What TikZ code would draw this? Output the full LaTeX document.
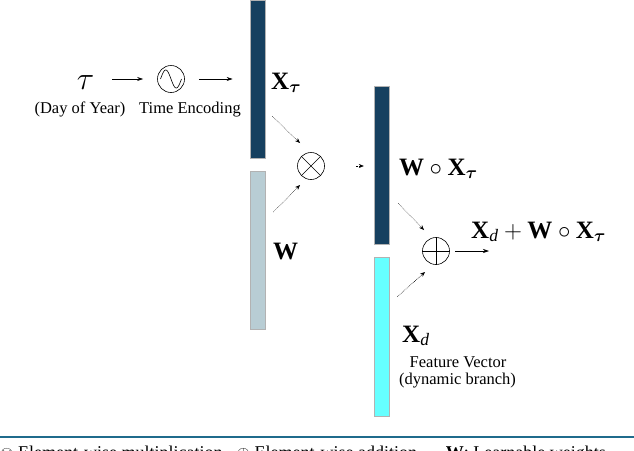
\documentclass[tikz,border=0pt]{standalone}
\usepackage{amsmath}
\usepackage{bm}
\usepackage{fontspec}
\setmainfont{Liberation Serif}
\usetikzlibrary{arrows.meta,calc}
\definecolor{navybar}{RGB}{22,64,95}
\definecolor{lightbar}{RGB}{184,205,212}
\definecolor{cyanbar}{RGB}{102,255,255}
\definecolor{rulecol}{RGB}{31,107,140}
\begin{document}
\begin{tikzpicture}[x=1pt,y=-1pt,
  bar/.style={draw=gray!60, line width=0.8pt, minimum width=15pt, minimum height=158pt, inner sep=0pt},
  lbl/.style={inner sep=0pt, anchor=base west, font=\fontsize{25}{29}\selectfont},
  txt/.style={inner sep=0pt, anchor=base, font=\fontsize{16.5}{19}\selectfont},
  op/.style={circle, draw, line width=0.6pt, minimum size=27pt, inner sep=0pt},
  arr/.style={-{Stealth[length=6pt,width=4pt]}, line width=0.6pt},
  dotarr/.style={densely dotted, -{Stealth[length=5pt,width=4pt]}, line width=0.5pt}]
\useasboundingbox (0,0) rectangle (634,450);
\begin{scope}
\clip (0,0) rectangle (634,450);
% bars
\node[bar, fill=navybar] (bxt) at (257.5,79) {};
\node[bar, fill=lightbar] (bw) at (257.5,250) {};
\node[bar, fill=navybar] (bwx) at (381.5,165) {};
\node[bar, fill=cyanbar, minimum height=159pt] (bxd) at (381.5,336.5) {};
% input
\node[inner sep=0pt, anchor=base, font=\fontsize{25}{30}\selectfont] (tau) at (85.5,89) {\scalebox{1.3}{$\tau$}};
\node[txt] (doy) at (80,113) {(Day of Year)};
\node[op] (enc) at (171,79) {};
\draw[line width=0.6pt, shift={(enc.center)}, domain=-10.5:10.5, samples=50, smooth] plot (\x,{9*sin(17.14*\x)});
\node[txt] (te) at (190,113) {Time Encoding};
% labels
\node[lbl] (lxt) at (271,89) {\textbf{X}$_{\bm{\tau}}$};
\node[lbl] (lw) at (273,259) {\textbf{W}};
\node[lbl] (lwx) at (399,175) {$\textbf{W}\circ\textbf{X}_{\bm{\tau}}$};
\node[lbl] (lsum) at (471,238) {$\textbf{X}_{\textit{d}}+\textbf{W}\circ\textbf{X}_{\bm{\tau}}$};
\node[lbl] (lxd) at (402,342) {\textbf{X}$_{\textit{d}}$};
\node[txt] (fv) at (458,367) {Feature Vector};
\node[txt] (db) at (457.5,384) {(dynamic branch)};
% operators
\node[op] (otimes) at (311,166) {};
\draw[line width=0.6pt] (otimes.north west) -- (otimes.south east) (otimes.north east) -- (otimes.south west);
\node[op] (oplus) at (436,251) {};
\draw[line width=0.6pt] (oplus.north) -- (oplus.south) (oplus.west) -- (oplus.east);
% connectors
\draw[arr, shorten <=18pt, shorten >=14pt] (enc.west -| tau.east) -- (enc.west);
\draw[arr, shorten <=14pt, shorten >=17pt] (enc.east) -- (enc.east -| bxt.west);
\draw[dotarr] ($(bxt.south east)+(7,-42)$) -- ($(otimes.center)+(-11,-23)$);
\draw[dotarr] ($(bw.east)+(8,-38)$) -- ($(otimes.center)+(-11,19)$);
\draw[dotarr] ($(otimes.east)+(31,0)$) -- ($(otimes.east)+(39,0)$);
\draw[dotarr] ($(bwx.south east)+(9,-41)$) -- ($(oplus.center)+(-12,-21)$);
\draw[densely dotted, -{Stealth[length=5pt,width=4pt]}, line width=0.6pt] ($(bxd.north east)+(8,40)$) -- ($(oplus.center)+(-11,21)$);
\coordinate (out) at (489,251);
\draw[arr, shorten <=5.5pt] (oplus.east) -- (out);
% rule and caption
\draw[rulecol, line width=1.5pt] (0,437) -- (634,437);
\node[inner sep=0pt, anchor=base west, font=\fontsize{18}{21}\selectfont] (cap) at (0,458.5)
  {$\otimes$ Element-wise multiplication\hspace{14pt}$\oplus$ Element-wise addition\hspace{29pt}\textbf{W}: Learnable weights};
\end{scope}
\end{tikzpicture}
\end{document}
